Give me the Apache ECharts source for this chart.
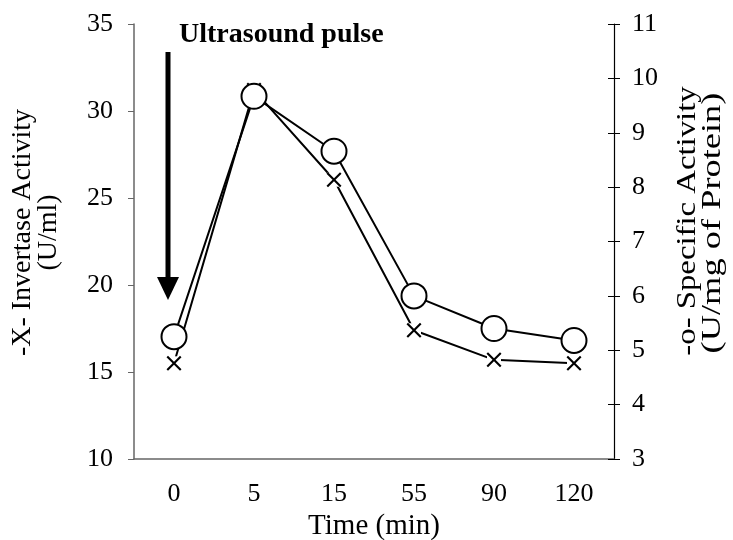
<!DOCTYPE html>
<html>
<head>
<meta charset="utf-8">
<script src="https://cdn.jsdelivr.net/npm/echarts@6/dist/echarts.min.js"></script>
<style>
  html, body { margin: 0; padding: 0; background: #fff; }
  #chart { width: 733px; height: 540px; }
</style>
</head>
<body>
<div id="chart"></div>
<script>
var times = ['0', '5', '15', '55', '90', '120'];
var invertase = [15.5, 31.2, 26.05, 17.4, 15.7, 15.5];
var specific = [5.25, 9.67, 8.66, 6.0, 5.4, 5.18];

var FONT = 'Liberation Serif';
var crossPath = 'path://M0,1 L1,0 L5,4 L9,0 L10,1 L6,5 L10,9 L9,10 L5,6 L1,10 L0,9 L4,5 Z';

var chart = echarts.init(document.getElementById('chart'));

var option = {
    backgroundColor: '#fff',
    animation: false,
    grid: { left: 134, right: 119, top: 24, bottom: 81, containLabel: false, outerBoundsMode: 'none' },
    xAxis: [{
        type: 'category',
        data: times,
        position: 'bottom',
        name: 'Time (min)',
        nameLocation: 'middle',
        nameGap: 50,
        nameTextStyle: { fontFamily: FONT, fontSize: 29, color: '#000' },
        axisLine: { lineStyle: { color: '#666', width: 1.5 } },
        axisTick: { length: 7, lineStyle: { color: '#000' } },
        axisLabel: { margin: 22, fontFamily: FONT, fontSize: 26, color: '#000' },
        splitLine: { show: false }
    }, {
        // upper half of the crossing ticks
        type: 'category',
        data: times,
        position: 'bottom',
        axisLine: { show: false },
        axisTick: { inside: true, length: 7, lineStyle: { color: '#000' } },
        axisLabel: { show: false },
        splitLine: { show: false }
    }],
    yAxis: [{
        type: 'value',
        position: 'left',
        min: 10, max: 35, interval: 5,
        name: '-X- Invertase Activity\n(U/ml)',
        nameLocation: 'middle',
        nameRotate: 90,
        nameGap: 72,
        nameTextStyle: { fontFamily: FONT, fontSize: 28, color: '#000', lineHeight: 26, padding: [0, 0, 0, 18] },
        axisLine: { show: true, lineStyle: { color: '#666', width: 1.5 } },
        axisTick: { show: true, length: 6, lineStyle: { color: '#666' } },
        axisLabel: { margin: 21, fontFamily: FONT, fontSize: 26, color: '#000' },
        splitLine: { show: false }
    }, {
        type: 'value',
        position: 'right',
        min: 3, max: 11, interval: 1,
        axisLine: { show: true, lineStyle: { color: '#000', width: 1.2 } },
        axisTick: { show: true, length: 6, lineStyle: { color: '#000' } },
        axisLabel: { margin: 18, fontFamily: FONT, fontSize: 26, color: '#000' },
        splitLine: { show: false }
    }, {
        // inner half of the crossing ticks on the right
        type: 'value',
        position: 'right',
        min: 3, max: 11, interval: 1,
        axisLine: { show: false },
        axisTick: { show: true, inside: true, length: 6, lineStyle: { color: '#000' } },
        axisLabel: { show: false },
        splitLine: { show: false }
    }],
    graphic: [{
        type: 'text',
        left: 179, top: 21,
        style: { text: 'Ultrasound pulse', fontFamily: FONT, fontSize: 28, fontWeight: 'bold', fill: '#000' }
    }, {
        type: 'line',
        shape: { x1: 168, y1: 52, x2: 168, y2: 280 },
        style: { stroke: '#000', lineWidth: 5 }
    }, {
        type: 'polygon',
        shape: { points: [[157, 277], [179, 277], [168, 300]] },
        style: { fill: '#000' }
    }, {
        // right axis title, stretched along its length like the original
        type: 'text',
        x: 688, y: 221,
        rotation: Math.PI / 2,
        scaleX: 1.17,
        style: {
            text: '-o- Specific Activity', fontFamily: FONT, fontSize: 28, fill: '#000',
            align: 'center', verticalAlign: 'middle'
        }
    }, {
        type: 'text',
        x: 713, y: 223,
        rotation: Math.PI / 2,
        scaleX: 1.3,
        style: {
            text: '(U/mg of Protein)', fontFamily: FONT, fontSize: 28, fill: '#000',
            align: 'center', verticalAlign: 'middle'
        }
    }],
    series: [{
        name: 'Invertase',
        type: 'line',
        yAxisIndex: 0,
        z: 2,
        data: invertase,
        symbol: 'rect',
        symbolSize: 14,
        itemStyle: { color: '#fff' },
        lineStyle: { color: '#000', width: 2 }
    }, {
        name: 'Invertase marker',
        type: 'scatter',
        yAxisIndex: 0,
        z: 3,
        data: invertase,
        symbol: crossPath,
        symbolSize: 15,
        itemStyle: { color: '#000', opacity: 1 }
    }, {
        name: 'Specific activity',
        type: 'line',
        yAxisIndex: 1,
        z: 4,
        data: specific,
        symbol: 'circle',
        symbolSize: 25,
        itemStyle: { color: '#fff', borderColor: '#000', borderWidth: 2 },
        lineStyle: { color: '#000', width: 2 }
    }]
};

chart.setOption(option);
</script>
</body>
</html>
